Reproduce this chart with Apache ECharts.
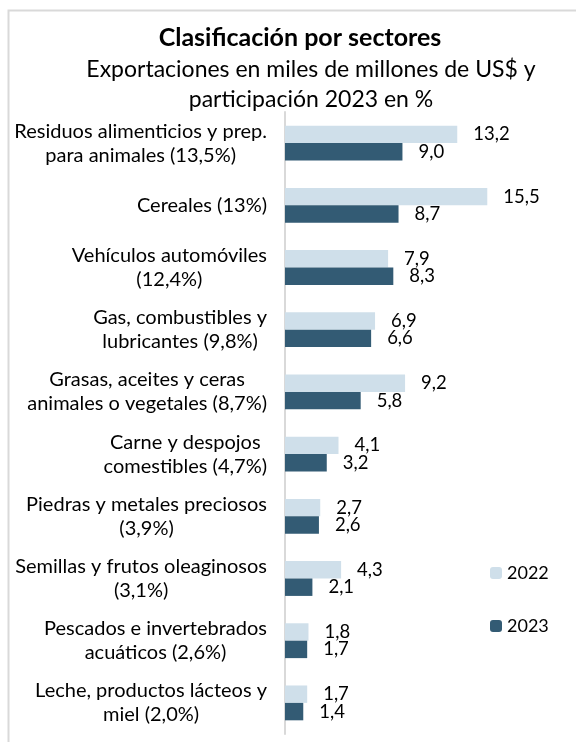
<!DOCTYPE html>
<html>
<head>
<meta charset="utf-8">
<script src="https://cdn.jsdelivr.net/npm/echarts@6/dist/echarts.min.js"></script>
<style>
  html, body { margin: 0; padding: 0; background: #fff; }
  #chart { width: 576px; height: 742px; }
</style>
</head>
<body>
<div id="chart"></div>
<script>
// sectores (con participación 2023)
const sectores = [
  'Residuos alimenticios y prep.\npara animales (13,5%)',
  'Cereales (13%)',
  'Vehículos automóviles\n(12,4%)',
  'Gas, combustibles y\nlubricantes (9,8%)',
  'Grasas, aceites y ceras\nanimales o vegetales (8,7%)',
  'Carne y despojos\ncomestibles (4,7%)',
  'Piedras y metales preciosos\n(3,9%)',
  'Semillas y frutos oleaginosos\n(3,1%)',
  'Pescados e invertebrados\nacuáticos (2,6%)',
  'Leche, productos lácteos y\nmiel (2,0%)'
];
const valores2022 = [13.2, 15.5, 7.9, 6.9, 9.2, 4.1, 2.7, 4.3, 1.8, 1.7];
const valores2023 = [9.0, 8.7, 8.3, 6.6, 5.8, 3.2, 2.6, 2.1, 1.7, 1.4];

const FONT = 'Lato, "Noto Sans", sans-serif';
const coma = (v) => v.toFixed(1).replace('.', ',');

const chart = echarts.init(document.getElementById('chart'));

const serie = (name, data, color) => ({
  name,
  type: 'bar',
  data,
  barGap: 0,
  barCategoryGap: '44%',
  itemStyle: { color },
  label: {
    show: true,
    position: 'right',
    distance: 16,
    color: '#000',
    fontFamily: FONT,
    fontSize: 18.5,
    formatter: (p) => coma(p.value)
  }
});

chart.setOption({
  animation: false,
  textStyle: { fontFamily: FONT },
  graphic: [{
    type: 'rect',
    shape: { x: 8.5, y: 10.5, width: 700, height: 900 },
    style: { fill: 'none', stroke: '#D9D9D9', lineWidth: 2 },
    silent: true
  }],
  title: [
    {
      text: 'Clasificación por sectores',
      left: 295, top: 20, textAlign: 'center',
      textStyle: { fontFamily: FONT, fontSize: 25, fontWeight: 'bold', color: '#000' }
    },
    {
      text: 'Exportaciones en miles de millones de US$ y\nparticipación 2023 en %',
      left: 306, top: 50, textAlign: 'center',
      textStyle: { fontFamily: FONT, fontSize: 23, fontWeight: 'normal', color: '#000', lineHeight: 30 }
    }
  ],
  legend: {
    orient: 'vertical',
    left: 485, top: 559,
    itemWidth: 12, itemHeight: 12, itemGap: 35,
    textStyle: { fontFamily: FONT, fontSize: 18, color: '#000' },
    data: ['2022', '2023']
  },
  grid: { left: 285, right: 30, top: 112, bottom: 8 },
  xAxis: { type: 'value', min: 0, max: 20, show: false },
  yAxis: {
    type: 'category',
    inverse: true,
    data: sectores,
    axisLine: { lineStyle: { color: '#D9D9D9', width: 2 } },
    axisTick: { length: 6, lineStyle: { color: '#D9D9D9', width: 2 } },
    axisLabel: {
      margin: 18,
      color: '#000',
      fontFamily: FONT,
      fontSize: 20,
      lineHeight: 24,
      formatter: (v) => v.split('\n').map(s => '{c|' + s + '}').join('\n'),
      rich: { c: { align: 'center', fontFamily: FONT, fontSize: 20, lineHeight: 24, color: '#000' } }
    }
  },
  series: [
    serie('2022', valores2022, '#CFDFEA'),
    serie('2023', valores2023, '#335B74')
  ]
});
</script>
</body>
</html>
